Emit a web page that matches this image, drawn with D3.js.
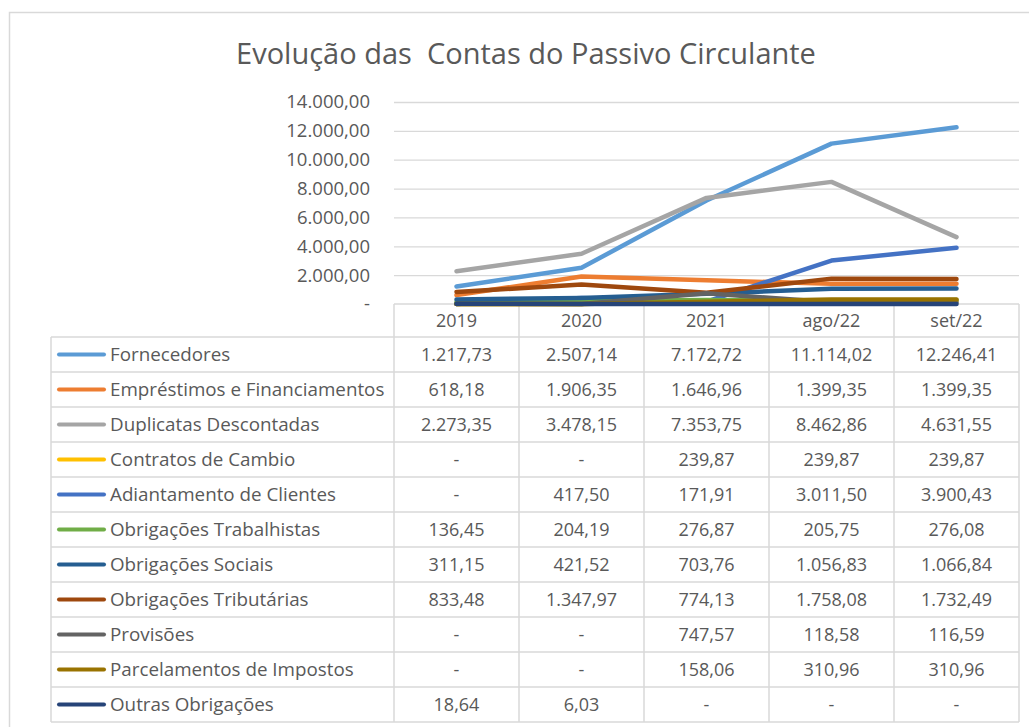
<!DOCTYPE html>
<html>
<head>
<meta charset="utf-8">
<script src="https://cdn.jsdelivr.net/npm/d3@7"></script>
<style>
body{margin:0;background:#fff;}
text{font-family:"Open Sans",sans-serif;fill:#595959;}
</style>
</head>
<body>
<div class="box"></div>
<script>
const categorias=['2019','2020','2021','ago/22','set/22'];
const contas=['Fornecedores','Empréstimos e Financiamentos','Duplicatas Descontadas','Contratos de Cambio','Adiantamento de Clientes','Obrigações Trabalhistas','Obrigações Sociais','Obrigações Tributárias','Provisões','Parcelamentos de Impostos','Outras Obrigações'];
const fornecedores=[1217.73,2507.14,7172.72,11114.02,12246.41];
const emprestimos=[618.18,1906.35,1646.96,1399.35,1399.35];
const duplicatas=[2273.35,3478.15,7353.75,8462.86,4631.55];
const contratos=[0,0,239.87,239.87,239.87];
const adiantamento=[0,417.50,171.91,3011.50,3900.43];
const trabalhistas=[136.45,204.19,276.87,205.75,276.08];
const sociais=[311.15,421.52,703.76,1056.83,1066.84];
const tributarias=[833.48,1347.97,774.13,1758.08,1732.49];
const provisoes=[0,0,747.57,118.58,116.59];
const parcelamentos=[0,0,158.06,310.96,310.96];
const outras=[18.64,6.03,0,0,0];
const ticksY=[0,2000,4000,6000,8000,10000,12000,14000];
const cores=['#5B9BD5','#ED7D31','#A5A5A5','#FFC000','#4472C4','#70AD47','#255E91','#9E480E','#636363','#997300','#264478'];

const series=[fornecedores,emprestimos,duplicatas,contratos,adiantamento,trabalhistas,sociais,tributarias,provisoes,parcelamentos,outras]
  .map((v,i)=>({nome:contas[i],valores:v,cor:cores[i]}));

const W=1029,H=727;
const svg=d3.select('.box').append('svg').attr('width',W).attr('height',H).style('display','block');

// borda da area do grafico
svg.append('rect').attr('x',9.5).attr('y',12.5).attr('width',W).attr('height',H)
  .attr('fill','none').attr('stroke','#d9d9d9').attr('stroke-width',1.5);

svg.append('text').attr('x',526).attr('y',64).attr('text-anchor','middle')
  .style('font-size','29px').style('white-space','pre').attr('xml:space','preserve')
  .text('Evolução das  Contas do Passivo Circulante');

const left=394,right=1019,legLeft=51;
const x=d3.scalePoint().domain(categorias).range([left,right]).padding(0.5);
const colW=(right-left)/categorias.length;
const y=d3.scaleLinear().domain([0,14000]).range([304,102]);

const fmt=d3.formatLocale({decimal:',',thousands:'.',grouping:[3]}).format(',.2f');
const fmtVal=v=> v===0 ? '-' : fmt(v);

// grade
const gY=svg.append('g').attr('transform',`translate(${left},0)`);
const axeY=d3.axisLeft(y).tickValues(ticksY).tickSize(-(right-left)).tickPadding(24)
  .tickFormat(d=> d===0 ? '-' : fmt(d));
gY.call(axeY);
gY.select('.domain').remove();
gY.selectAll('.tick line').attr('stroke','#d9d9d9').attr('stroke-width',1.3)
  .filter(d=>d===0).remove();
gY.selectAll('.tick text').style('font-size','18.5px').attr('fill','#595959');

// tabela de dados
const rowH=35,headTop=304,headH=33;
const rowsTop=headTop+headH;
const tab=svg.append('g').attr('stroke','#d9d9d9').attr('stroke-width',1.5);
tab.append('line').attr('x1',left).attr('x2',right).attr('y1',headTop).attr('y2',headTop);
categorias.forEach((c,i)=>{
  tab.append('line').attr('x1',left+i*colW).attr('x2',left+i*colW).attr('y1',headTop).attr('y2',rowsTop+contas.length*rowH);
});
tab.append('line').attr('x1',right).attr('x2',right).attr('y1',headTop).attr('y2',rowsTop+contas.length*rowH);
tab.append('line').attr('x1',legLeft).attr('x2',legLeft).attr('y1',rowsTop).attr('y2',rowsTop+contas.length*rowH);
for(let r=0;r<=contas.length;r++){
  tab.append('line').attr('x1',legLeft).attr('x2',right).attr('y1',rowsTop+r*rowH).attr('y2',rowsTop+r*rowH);
}
svg.selectAll('.cat').data(categorias).enter().append('text')
  .attr('x',d=>x(d)).attr('y',headTop+headH/2+6).attr('text-anchor','middle')
  .style('font-size','18px').text(d=>d);

const linhas=svg.selectAll('.row').data(series).enter().append('g')
  .attr('transform',(d,i)=>`translate(0,${rowsTop+i*rowH+rowH/2})`);
linhas.append('line').attr('x1',59).attr('x2',104).attr('stroke',d=>d.cor)
  .attr('stroke-width',4).attr('stroke-linecap','round');
linhas.append('text').attr('x',110).attr('y',6.5).style('font-size','18.8px').text(d=>d.nome);
linhas.each(function(s){
  d3.select(this).selectAll('.v').data(s.valores).enter().append('text')
    .attr('x',(d,i)=>x(categorias[i])).attr('y',6.5).attr('text-anchor','middle')
    .style('font-size','18px').text(d=>fmtVal(d));
});

// linhas do grafico
const line=d3.line().x((d,i)=>x(categorias[i])).y(d=>y(d));
svg.selectAll('.serie').data(series).enter().append('path')
  .attr('d',d=>line(d.valores)).attr('fill','none').attr('stroke',d=>d.cor)
  .attr('stroke-width',4.5).attr('stroke-linecap','round').attr('stroke-linejoin','round');
</script>
</body>
</html>
